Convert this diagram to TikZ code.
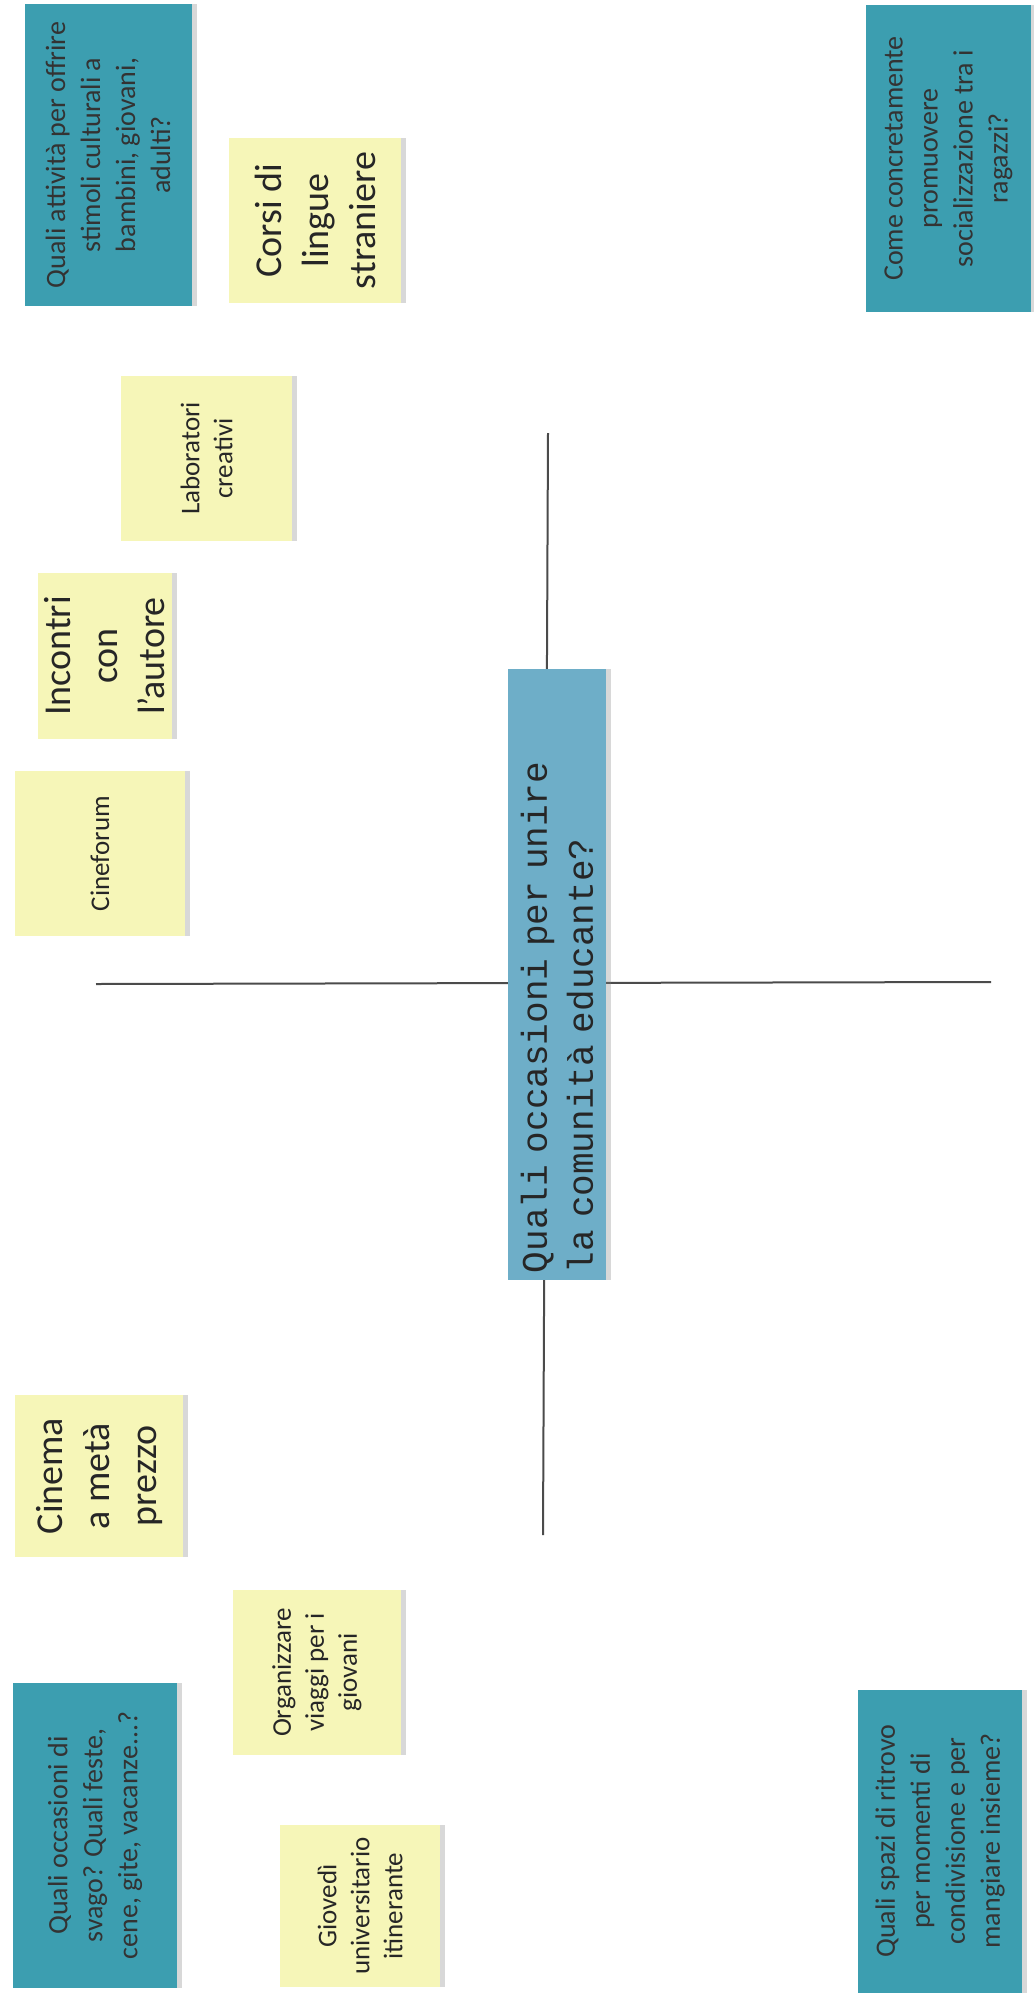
\documentclass[tikz,border=0pt]{standalone}
\usepackage{fontspec}
\setmainfont{Carlito}
\newfontfamily\monofont{Liberation Mono}
\usetikzlibrary{shadows}

\definecolor{tealnote}{RGB}{60,158,176}
\definecolor{bluenote}{RGB}{110,174,200}
\definecolor{yellownote}{RGB}{246,246,184}
\definecolor{crossline}{RGB}{75,75,75}

\begin{document}
\begin{tikzpicture}[x=0.5pt,y=-0.5pt]
\tikzstyle{note}=[rectangle, rotate=90, align=center, inner sep=0pt, drop shadow={shadow xshift=2.5pt, shadow yshift=0pt, opacity=.3}]
\tikzstyle{question}=[note, fill=tealnote, text=black!80, font=\fontsize{14}{17.5}\selectfont]
\tikzstyle{bigidea}=[note, fill=yellownote, text=black!85, font=\fontsize{19}{23.5}\selectfont]
\tikzstyle{idea}=[note, fill=yellownote, text=black!85, font=\fontsize{13.5}{16.5}\selectfont]
\tikzstyle{cross}=[crossline, line width=1pt]

\fill[white] (0,0) rectangle (1033,1996);
\useasboundingbox (0,0) rectangle (1033,1996);

% the cross
\coordinate (crosstop) at (548,433);
\coordinate (crossbot) at (543,1535);
\coordinate (crossleft) at (96,984);
\coordinate (crossright) at (991,982);
\draw[cross] (crosstop) -- (crossbot);
\draw[cross] (crossleft) -- (crossright);

% central question
\node[note, fill=bluenote, text=black!85, align=left, text width=299pt, font=\monofont\fontsize{18}{23}\selectfont,
  minimum width=305.5pt, minimum height=49pt] (centro) at (557,974)
  {Quali occasioni per unire\\la comunità educante?};

% upper half
\node[question, minimum width=151pt, minimum height=83.5pt] (attivita) at (108,155)
  {Quali attività per offrire\\stimoli culturali a\\bambini, giovani,\\adulti?};
\node[bigidea, minimum width=82.5pt, minimum height=86pt] (corsi) at (315,220.5)
  {Corsi di\\lingue\\straniere};
\node[question, minimum width=153.5pt, minimum height=82.5pt] (socializzazione) at (948.5,158.5)
  {Come concretamente\\promuovere\\socializzazione tra i\\ragazzi?};
\node[idea, minimum width=82.5pt, minimum height=85.5pt] (laboratori) at (206.5,458.5)
  {Laboratori\\creativi};
\node[bigidea, minimum width=83pt, minimum height=67pt] (incontri) at (105,656)
  {Incontri\\con\\l'autore};
\node[idea, minimum width=82.5pt, minimum height=85pt] (cineforum) at (100,853.5)
  {Cineforum};

% lower half
\node[bigidea, minimum width=81pt, minimum height=84pt] (cinema) at (99,1476)
  {Cinema\\a metà\\prezzo};
\node[idea, minimum width=82.5pt, minimum height=84pt] (viaggi) at (317,1672.5)
  {Organizzare\\viaggi per i\\giovani};
\node[question, minimum width=152.5pt, minimum height=82pt] (svago) at (95,1835.5)
  {Quali occasioni di\\svago? Quali feste,\\cene, gite, vacanze...?};
\node[idea, minimum width=81pt, minimum height=80pt] (giovedi) at (360,1906)
  {Giovedì\\universitario\\itinerante};
\node[question, minimum width=151.5pt, minimum height=82pt] (ritrovo) at (940,1841)
  {Quali spazi di ritrovo\\per momenti di\\condivisione e per\\mangiare insieme?};
\end{tikzpicture}
\end{document}
